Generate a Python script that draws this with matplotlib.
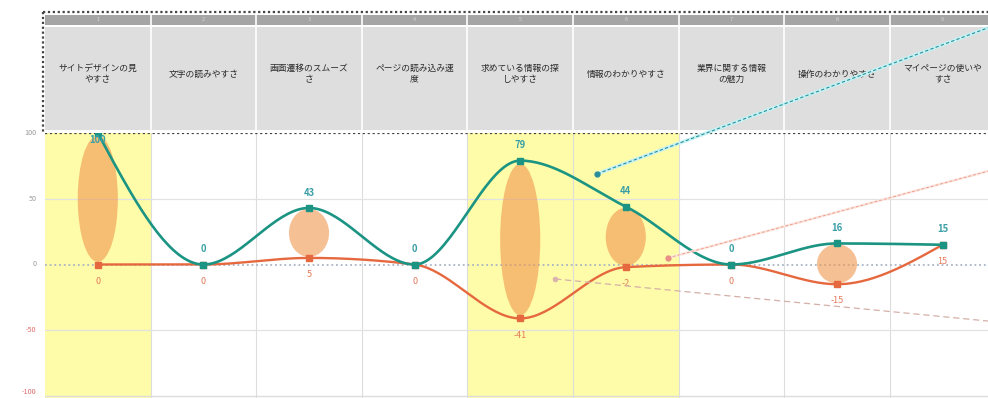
import numpy as np
import matplotlib
matplotlib.use("Agg")
import matplotlib.pyplot as plt
from matplotlib.patches import Ellipse, Rectangle

plt.rcParams['font.family'] = ['Noto Sans CJK JP', 'DejaVu Sans']

# ---------------- data ----------------
categories = ["サイトデザインの見\nやすさ", "文字の読みやすさ", "画面遷移のスムーズ\nさ",
              "ページの読み込み速\n度", "求めている情報の探\nしやすさ", "情報のわかりやすさ",
              "業界に関する情報\nの魅力", "操作のわかりやすさ", "マイページの使いや\nすさ"]
col_numbers = ["1", "2", "3", "4", "5", "6", "7", "8", "9"]
series_a = [100, 0, 43, 0, 79, 44, 0, 16, 15]      # teal line
series_b = [0, 0, 5, 0, -41, -2, 0, -15, 15]       # orange line
highlight_cols = [0, 4, 5]
y_ticks = [100, 50, 0, -50, -100]
# annotation leader lines: (x0, y0, x1, y1)
leader_teal = (4.73, 69, 8.43, 180)
leader_red = (5.40, 5, 8.43, 71)
leader_pink = (4.33, -11, 8.43, -43)

# ---------------- style ----------------
W, H = 988, 398
TEAL = "#1b9483"
TEAL_LBL = "#3a9fa6"
RED = "#e6683e"
RED_LBL = "#e57a5a"
YELLOW = "#fefca8"
ELL = (0.94, 0.59, 0.31)

fig = plt.figure(figsize=(W / 100, H / 100), dpi=100)

left_px, top_px, zero_px = 45, 133, 265
colw = 105.6
ppu = 1.315  # pixels per y unit
xmax = -0.5 + (W - left_px) / colw
ymin = 100 - (H - top_px) / ppu

hx = fig.add_axes([left_px / W, (H - top_px) / H, (W - left_px) / W, (top_px - 12) / H])
ax = fig.add_axes([left_px / W, 0, (W - left_px) / W, (H - top_px) / H])
ax.set_zorder(hx.get_zorder() + 1)
ax.patch.set_alpha(0)

# ---------------- header ----------------
hx.set_xlim(-0.5, xmax)
hx.set_ylim(121, 0)
hx.axis('off')
n = len(categories)
for i in range(n):
    hx.add_patch(Rectangle((i - 0.5, 3), 1, 10, facecolor="#a5a5a5", edgecolor="none"))
    hx.add_patch(Rectangle((i - 0.5, 15), 1, 103, facecolor="#dedede", edgecolor="none"))
    hx.text(i, 8, col_numbers[i], ha='center', va='center', fontsize=4, color="#d6d6d6")
    hx.text(i, 62, categories[i], ha='center', va='center', fontsize=6.3,
            color="#2a2a2a", linespacing=1.25)
for i in range(n):
    hx.plot([i + 0.5, i + 0.5], [3, 118], color="white", lw=1.2)
hx.plot([-0.52, xmax], [0.5, 0.5], color="#444444", lw=1.6, ls=(0, (1, 1.2)), clip_on=False)
hx.plot([-0.52, -0.52], [0.5, 121], color="#444444", lw=1.6, ls=(0, (1, 1.2)), clip_on=False)

# ---------------- main ----------------
ax.set_xlim(-0.5, xmax)
ax.set_ylim(ymin, 100)
for s in ax.spines.values():
    s.set_visible(False)
ax.set_xticks([])
ax.set_yticks([])

for c in highlight_cols:
    ax.axvspan(c - 0.5, c + 0.5, color=YELLOW, lw=0, zorder=0)
for i in range(n):
    ax.axvline(i + 0.5, color="#dddddd", lw=0.8, zorder=0.5)
for t in [50, -50]:
    ax.axhline(t, color="#e2e2e2", lw=0.9, zorder=0.5)
ax.axhline(-100, color="#dddddd", lw=1.0, zorder=0.5)
ax.axhline(0, color="#a9b4c4", lw=1.3, ls=(0, (1, 1.6)), zorder=0.6)
ax.axhline(100, color="#444444", lw=1.6, ls=(0, (1, 1.2)), zorder=0.6)

# y tick labels
for t in y_ticks:
    col = "#9a9a9a" if t >= 0 else "#e06a6a"
    ax.text(-0.58, max(t, -97), str(t), ha='right', va='center', fontsize=5.2,
            color=col, clip_on=False)

x = np.arange(n)

# ellipses spanning the gap between the two series
for i in range(n):
    a, b = series_a[i], series_b[i]
    if a - b > 0:
        ax.add_patch(Ellipse((i, (a + b) / 2), 0.38, (a - b) * 0.96,
                             facecolor=ELL, alpha=0.6, edgecolor="none", zorder=1))


def monotone_curve(xs, ys, steps=40):
    xs = np.asarray(xs, float)
    ys = np.asarray(ys, float)
    h = np.diff(xs)
    s = np.diff(ys) / h
    m = np.zeros_like(ys)
    for i in range(1, len(ys) - 1):
        s0, s1 = s[i - 1], s[i]
        p = (s0 * h[i] + s1 * h[i - 1]) / (h[i - 1] + h[i])
        m[i] = (np.sign(s0) + np.sign(s1)) * min(abs(s0), abs(s1), 0.5 * abs(p))
    m[0] = (3 * s[0] - m[1]) / 2
    m[-1] = (3 * s[-1] - m[-2]) / 2
    X, Y = [], []
    for i in range(len(xs) - 1):
        t = np.linspace(0, 1, steps)
        h00 = 2 * t**3 - 3 * t**2 + 1
        h10 = t**3 - 2 * t**2 + t
        h01 = -2 * t**3 + 3 * t**2
        h11 = t**3 - t**2
        X.append(xs[i] + t * h[i])
        Y.append(h00 * ys[i] + h10 * h[i] * m[i] + h01 * ys[i + 1] + h11 * h[i] * m[i + 1])
    return np.concatenate(X), np.concatenate(Y)


cx, cy = monotone_curve(x, series_b)
ax.plot(cx, cy, color=RED, lw=1.7, zorder=3)
ax.plot(x, series_b, ls='none', marker='s', ms=4.5, color=RED, zorder=4)
cx, cy = monotone_curve(x, series_a)
ax.plot(cx, cy, color=TEAL, lw=1.9, zorder=5)
ax.plot(x, series_a, ls='none', marker='s', ms=5, color=TEAL, zorder=6)

for i in range(n):
    va = series_a[i]
    off = 11 if va < 92 else -5
    ax.annotate(str(va), (i, va), xytext=(0, off), textcoords='offset points',
                ha='center', va='center', fontsize=6.8, color=TEAL_LBL,
                fontweight='bold', zorder=7)
    vb = series_b[i]
    ax.annotate(str(vb), (i, vb), xytext=(0, -12), textcoords='offset points',
                ha='center', va='center', fontsize=6.5, color=RED_LBL, zorder=7)

# leader lines
x0, y0, x1, y1 = leader_teal
ax.plot([x0, x1], [y0, y1], color="#c6f2f4", lw=2.6, zorder=8, clip_on=False,
        solid_capstyle='butt')
ax.plot([x0, x1], [y0, y1], color="#2a8f9a", lw=0.8, ls=(0, (3, 2)), zorder=9, clip_on=False)
ax.plot([x0], [y0], 'o', color="#2a8f9a", ms=3.5, zorder=9)

x0, y0, x1, y1 = leader_red
ax.plot([x0, x1], [y0, y1], color="#fbe6e0", lw=1.8, zorder=8, clip_on=False)
ax.plot([x0, x1], [y0, y1], color="#ee9f8c", lw=0.7, ls=(0, (3, 2)), zorder=9, clip_on=False)
ax.plot([x0], [y0], 'o', color="#e88f86", ms=3.5, zorder=9)

x0, y0, x1, y1 = leader_pink
ax.plot([x0, x1], [y0, y1], color="#d4b0a8", lw=0.9, ls=(0, (5, 3)), zorder=8, clip_on=False)
ax.plot([x0], [y0], 'o', color="#d9b3ae", ms=3, zorder=9)

fig.savefig("out.png", dpi=100)
